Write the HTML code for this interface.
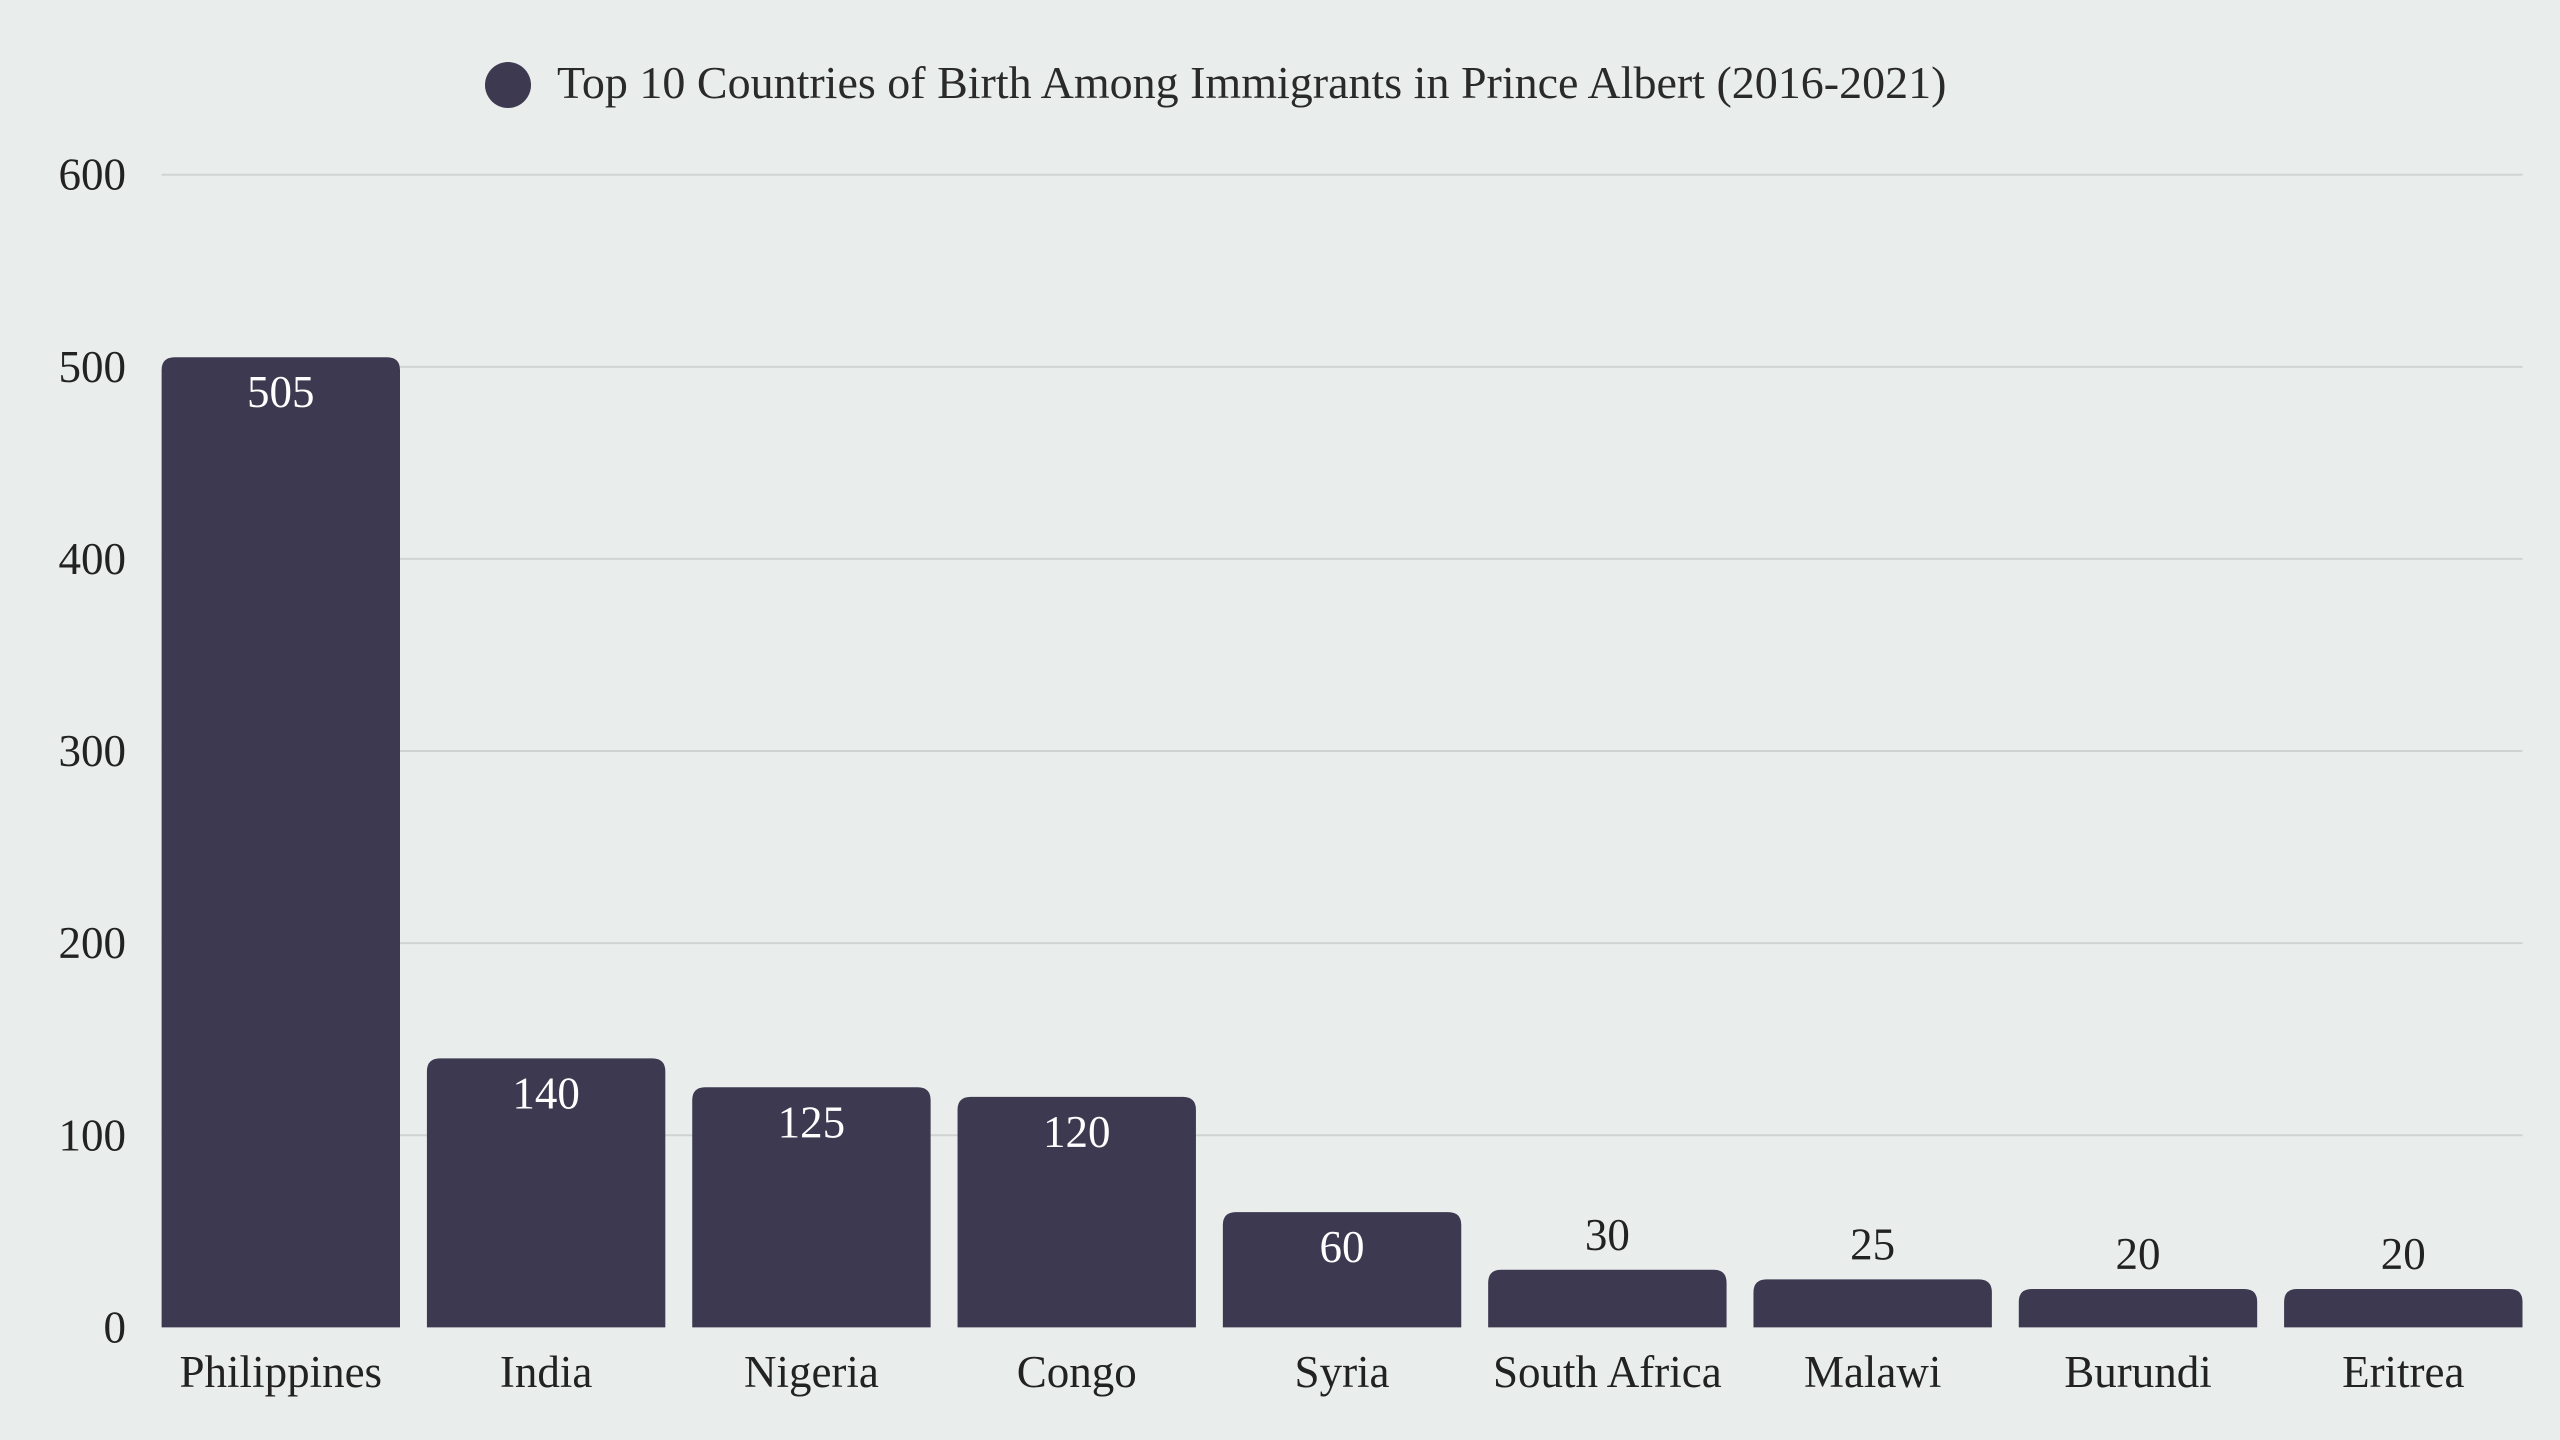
<!DOCTYPE html>
<html><head><meta charset="utf-8">
<style>
html,body{margin:0;padding:0;background:#e9eeec;}
svg{display:block;font-family:"Liberation Serif",serif;}
</style></head>
<body>
<svg id="chart" width="2560" height="1440" viewBox="0 0 2560 1440">
<rect width="2560" height="1440" fill="#e9eeec"/>
<g id="legend">
<circle cx="508" cy="85" r="23" fill="#3d3950"/>
<text x="557" y="98" font-size="46" fill="#2a2a2a">Top 10 Countries of Birth Among Immigrants in Prince Albert (2016-2021)</text>
</g>
<g id="grid"></g>
<g id="bars"></g>
<g id="labels"></g>
</svg>
<script>
const categories=["Philippines","India","Nigeria","Congo","Syria","South Africa","Malawi","Burundi","Eritrea"];
const values=[505,140,125,120,60,30,25,20,20];
const yTicks=[0,100,200,300,400,500,600];
const NS="http://www.w3.org/2000/svg";
const L=161.6,R=2522.5,Y0=1327.4,Y1=174.7,yMax=600;
const y=v=>Y0-(Y0-Y1)*v/yMax;
const step=(R-L-238.4)/(categories.length-1)+0; 
const bw=238.4, slot=(R-L-bw)/(categories.length-1);
const x=i=>L+i*slot;
function mk(t,a,p){const e=document.createElementNS(NS,t);for(const k in a)e.setAttribute(k,a[k]);p.appendChild(e);return e;}
const grid=document.getElementById('grid'),bars=document.getElementById('bars'),labels=document.getElementById('labels');
yTicks.forEach(t=>{
 if(t>0){const ln=mk('line',{x1:L,x2:R,y1:y(t),y2:y(t),stroke:'#cfd4d3','stroke-width':2},grid);
 
 }
 const tx=mk('text',{x:126,y:y(t)+15,'text-anchor':'end','font-size':45,fill:'#222'},grid);
 tx.textContent=t;
 
 
});
categories.forEach((c,i)=>{
 const v=values[i],top=y(v),h=Y0-top,r=Math.min(13,h/2);
 const x0=x(i),x1=x0+bw;
 const p=mk('path',{d:`M${x0},${Y0}V${top+r}Q${x0},${top} ${x0+r},${top}H${x1-r}Q${x1},${top} ${x1},${top+r}V${Y0}Z`,fill:'#3d3950'},bars);
 
 
 const inside=h>80;
 const vt=mk('text',{x:x0+bw/2,y:inside?top+50:top-20,'text-anchor':'middle','font-size':45,fill:inside?'#ffffff':'#222'},labels);
 vt.textContent=v;
 
 
 const ct=mk('text',{x:x0+bw/2,y:1387,'text-anchor':'middle','font-size':45,fill:'#222'},labels);
 ct.textContent=c;
 
 
});
</script>
</body></html>
